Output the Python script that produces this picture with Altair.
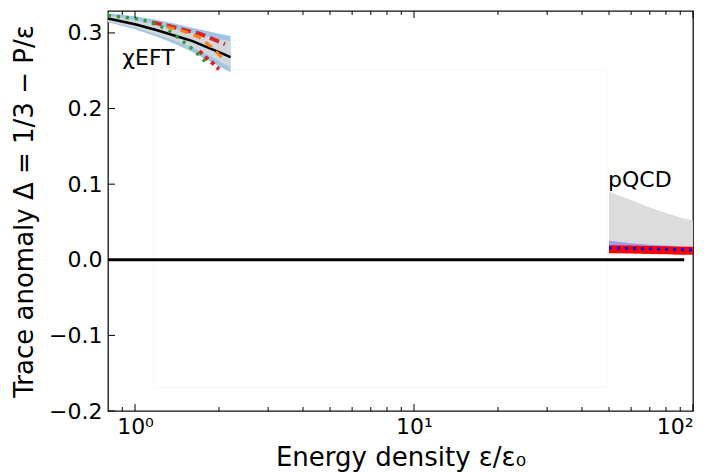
import altair as alt
import pandas as pd

# ---------------- data ----------------
# chiEFT region
chi_x = [0.8, 1.0, 1.2, 1.4, 1.6, 1.8, 2.0, 2.2]
chi_black = [0.319, 0.3115, 0.3035, 0.296, 0.2895, 0.2815, 0.2745, 0.268]
chi_grey_hi = [0.323, 0.317, 0.311, 0.305, 0.300, 0.296, 0.292, 0.289]
chi_grey_lo = [0.315, 0.307, 0.298, 0.289, 0.281, 0.272, 0.263, 0.254]
chi_blue_hi = [0.326, 0.322, 0.317, 0.312, 0.307, 0.303, 0.299, 0.296]
chi_blue_lo = [0.314, 0.305, 0.295, 0.285, 0.275, 0.265, 0.256, 0.248]

green_x = [0.8, 1.0, 1.12, 1.3, 1.45, 1.58, 1.7, 1.83]
green_y = [0.323, 0.319, 0.315, 0.305, 0.292, 0.281, 0.270, 0.258]

red1_x = [1.15, 1.3, 1.5, 1.7, 1.9, 2.1]
red1_y = [0.314, 0.310, 0.304, 0.299, 0.292, 0.285]
red2_x = [1.7, 1.8, 1.9, 2.0]
red2_y = [0.276, 0.267, 0.260, 0.252]

orange_x = [1.3, 1.5, 1.7, 1.9, 2.1]
orange_y = [0.308, 0.302, 0.294, 0.280, 0.263]

# pQCD region
pq_x = [50, 60, 70, 80, 90, 100]
pq_grey_hi = [0.090, 0.079, 0.069, 0.062, 0.056, 0.052]
pq_grey_lo = [0.010, 0.010, 0.010, 0.010, 0.010, 0.010]
pq_blue_hi = [0.025, 0.022, 0.020, 0.019, 0.018, 0.017]
pq_blue_lo = [0.0095, 0.0092, 0.009, 0.0088, 0.0086, 0.0085]
pq_red = [0.014, 0.0135, 0.013, 0.0125, 0.012, 0.012]
pq_dot = [0.0155, 0.015, 0.0145, 0.014, 0.0135, 0.013]

# zero line
zero_x = [0.8, 93]
zero_y = [0.0, 0.0]

# faint inset frame
inset_x = [1.165, 49.2]
inset_y = [-0.169, 0.251]

# annotations
label_text = ["χEFT", "pQCD"]
label_x = [0.9, 49.6]
label_y = [0.2576, 0.0964]

# ticks
x_major = [1, 10, 100]
x_minor = [0.9, 2, 3, 4, 5, 6, 7, 8, 9, 20, 30, 40, 50, 60, 70, 80, 90]
y_major = [-0.2, -0.1, 0.0, 0.1, 0.2, 0.3]

W, H = 585, 400
MAJ, MIN = 7, 4

# ---------------- frames ----------------
chi_df = pd.DataFrame({"x": chi_x, "black": chi_black, "ghi": chi_grey_hi, "glo": chi_grey_lo,
                       "bhi": chi_blue_hi, "blo": chi_blue_lo})
green_df = pd.DataFrame({"x": green_x, "y": green_y})
red1_df = pd.DataFrame({"x": red1_x, "y": red1_y})
red2_df = pd.DataFrame({"x": red2_x, "y": red2_y})
orange_df = pd.DataFrame({"x": orange_x, "y": orange_y})
pq_df = pd.DataFrame({"x": pq_x, "ghi": pq_grey_hi, "glo": pq_grey_lo, "bhi": pq_blue_hi,
                      "blo": pq_blue_lo, "red": pq_red, "dot": pq_dot})
zero_df = pd.DataFrame({"x": zero_x, "y": zero_y})
inset_df = pd.DataFrame({"x": [inset_x[0]], "x2": [inset_x[1]], "y": [inset_y[0]], "y2": [inset_y[1]]})
label_df = pd.DataFrame({"t": label_text, "x": label_x, "y": label_y})
xmaj_df = pd.DataFrame({"v": x_major})
xmin_df = pd.DataFrame({"v": x_minor})
ymaj_df = pd.DataFrame({"v": y_major})

FONT = "DejaVu Sans"
xs = alt.Scale(type="log", domain=[0.8, 100], nice=False)
ys = alt.Scale(domain=[-0.2, 0.329], nice=False, zero=False)

x_label_axis = alt.Axis(values=x_major, ticks=False, domain=False, grid=False,
                        labelExpr="datum.value == 1 ? '10⁰' : datum.value == 10 ? '10¹' : '10²'",
                        labelPadding=5, labelFontSize=22, labelFont=FONT, labelColor="black",
                        title="Energy density ε/ε₀", titleFontSize=26, titleFont=FONT,
                        titleFontWeight="normal", titleColor="black", titlePadding=7)
y_label_axis = alt.Axis(values=y_major, format=".1f", ticks=False, domain=False, grid=False,
                        labelPadding=6, labelFontSize=22, labelFont=FONT, labelColor="black",
                        title="Trace anomaly Δ = 1/3 − P/ε", titleFontSize=26, titleFont=FONT,
                        titleFontWeight="normal", titleColor="black", titlePadding=11)

inset = alt.Chart(inset_df).mark_rect(fill="white", stroke="#f7f7f7", strokeWidth=1).encode(
    x=alt.X("x:Q", scale=xs, axis=x_label_axis), x2="x2",
    y=alt.Y("y:Q", scale=ys, axis=y_label_axis), y2="y2")

def band(df, hi, lo, color, opacity=1.0):
    return alt.Chart(df).mark_area(color=color, opacity=opacity).encode(
        x=alt.X("x:Q", scale=xs, axis=None),
        y=alt.Y(f"{hi}:Q", scale=ys, axis=None), y2=lo)

def line(df, ycol, color, width, dash=None):
    kw = dict(color=color, strokeWidth=width)
    if dash is not None:
        kw["strokeDash"] = dash
    return alt.Chart(df).mark_line(**kw).encode(
        x=alt.X("x:Q", scale=xs, axis=None), y=alt.Y(f"{ycol}:Q", scale=ys, axis=None))

def xticks(df, y0, y1):
    return alt.Chart(df).mark_rule(color="black", strokeWidth=1).encode(
        x=alt.X("v:Q", scale=xs, axis=None), y=alt.value(y0), y2=alt.value(y1))

def yticks(df, x0, x1):
    return alt.Chart(df).mark_rule(color="black", strokeWidth=1).encode(
        y=alt.Y("v:Q", scale=ys, axis=None), x=alt.value(x0), x2=alt.value(x1))

chi_blue = band(chi_df, "bhi", "blo", "#9fc5e6")
chi_grey = band(chi_df, "ghi", "glo", "#d9d9d9", 0.85)
pq_grey = band(pq_df, "ghi", "glo", "#dcdcdc")
pq_blue = band(pq_df, "bhi", "blo", "#8c8cf0", 0.8)

chi_black_l = line(chi_df, "black", "black", 2.5)
red1 = line(red1_df, "y", "#d62728", 4, [10, 5])
red2 = line(red2_df, "y", "#d62728", 4, [4, 4])
orange = line(orange_df, "y", "#ff7f0e", 3, [8, 6])
green = line(green_df, "y", "#2ca02c", 3.5, [3, 6])
pq_red_l = line(pq_df, "red", "#ff0000", 8)
pq_dot_l = line(pq_df, "dot", "#0000ff", 3, [3, 5])
zero_l = line(zero_df, "y", "black", 3)

labels = alt.Chart(label_df).mark_text(align="left", baseline="alphabetic", font=FONT,
                                       fontSize=22, color="black").encode(
    x=alt.X("x:Q", scale=xs, axis=None), y=alt.Y("y:Q", scale=ys, axis=None), text="t:N")

ticks = [
    xticks(xmaj_df, H, H - MAJ), xticks(xmin_df, H, H - MIN),
    xticks(xmaj_df, 0, MAJ), xticks(xmin_df, 0, MIN),
    yticks(ymaj_df, 0, MAJ),
]

chart = alt.layer(
    inset, chi_blue, chi_grey, pq_grey, pq_blue,
    chi_black_l, red1, red2, orange, green,
    zero_l, pq_red_l, pq_dot_l, labels, *ticks
).resolve_axis(x="independent", y="independent").properties(
    width=W, height=H,
    autosize=alt.AutoSizeParams(type="none"),
    padding={"left": 108, "top": 11, "right": 21, "bottom": 62},
).configure(
    background="white",
    view=alt.ViewConfig(stroke="#111111", strokeWidth=1.3),
)

chart.save("out.html", embed_options={"renderer": "svg", "actions": False})
